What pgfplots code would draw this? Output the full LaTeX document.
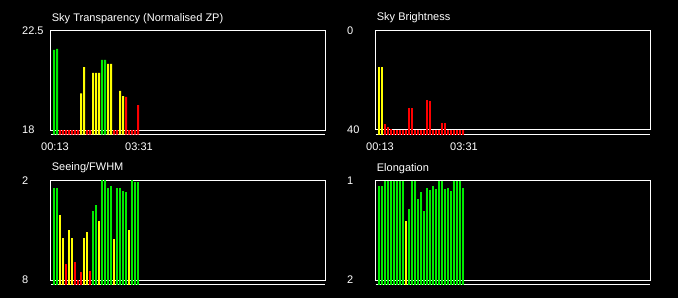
\documentclass[border=0pt]{standalone}
\usepackage{pgfplots}
\pgfplotsset{compat=1.18}
\usepackage{fontspec}
\setmainfont{Liberation Sans}
\definecolor{qgreen}{RGB}{0,235,0}
\definecolor{qyellow}{RGB}{255,255,0}
\definecolor{qred}{RGB}{255,0,0}
\pgfplotsset{
  panel/.style={
    width=274.5pt, height=104pt, scale only axis,
    xmin=-1.1, xmax=90.4,
    axis line style={draw=none}, tick style={draw=none},
    clip mode=individual,
    xtick=\empty,
    ticklabel style={font=\fontsize{11}{13}\selectfont, text=white},
    yticklabel style={anchor=west, inner sep=0pt, xshift=-28.7pt},
    xticklabel style={anchor=north, inner sep=0pt, yshift=-8.2pt, xshift=1pt},
    title style={at={(0,1)}, anchor=base west, inner sep=0pt, yshift=3.5pt, xshift=1pt,
      font=\fontsize{11}{13}\selectfont, text=white},
  },
  bars/.style={ybar, bar width=2pt, bar shift=0pt, draw=none, fill=#1},
  rbars/.style 2 args={draw=none, mark=none,
    error bars/.cd, y dir=plus, y fixed=#2, error mark=none,
    error bar style={draw=#1, line width=2pt, solid}},
}
\begin{document}
\begin{tikzpicture}[font=\fontsize{11}{13}\selectfont]
\useasboundingbox (0pt,0pt) rectangle (678pt,298pt);
\fill[black] (0pt,0pt) rectangle (678pt,298pt);

% Panel 1: Sky Transparency
\begin{axis}[panel, at={(50.7pt,163.5pt)}, anchor=south west,
  ymin=17.8, ymax=22.5,
  ytick={18,22.5}, yticklabels={18,22.5},
  xtick={0,28}, xticklabels={00:13,03:31},
  title={Sky Transparency (Normalised ZP)}]
\draw[white, line width=1pt] (axis cs:-1.1,18) rectangle (axis cs:90.4,22.5);
\draw[white, line width=1pt] (axis cs:-1.1,17.8) -- (axis cs:90.4,17.8);
\addplot[bars=qgreen] coordinates {(0,21.62) (1,21.67) (16,21.17) (17,21.17)};
\addplot[bars=qyellow] coordinates {(9,19.66) (10,20.85) (13,20.58) (14,20.58) (15,20.58) (18,20.99) (19,20.99) (22,19.77) (23,19.54)};
\addplot[bars=qred] coordinates {(2,18) (3,18) (4,18) (5,18) (6,18) (7,18) (8,18) (11,18) (12,18) (20,18) (21,18) (24,19.50) (25,18) (26,18) (27,18) (28,19.13)};
\end{axis}

% Panel 2: Sky Brightness
\begin{axis}[panel, at={(375.7pt,163.5pt)}, anchor=south west,
  ymin=0, ymax=41.81, y dir=reverse,
  ytick={0,40}, yticklabels={0,40},
  xtick={0,28}, xticklabels={00:13,03:31},
  title={Sky Brightness}]
\draw[white, line width=1pt] (axis cs:-1.1,0) rectangle (axis cs:90.4,40);
\draw[white, line width=1pt] (axis cs:-1.1,41.81) -- (axis cs:90.4,41.81);
\addplot[rbars={qyellow}{100}] coordinates {(0,14.67) (1,14.67)};
\addplot[rbars={qred}{100}] coordinates {(2,37.6) (3,38.8) (4,39.6) (5,40) (6,40) (7,40) (8,40) (9,40) (10,31.16) (11,31.16) (12,40) (13,40) (14,40) (15,40) (16,27.94) (17,28.34) (18,40) (19,40) (20,40) (21,37.19) (22,37.19) (23,40) (24,40) (25,40) (26,40) (27,40) (28,40)};
\end{axis}

% Panel 3: Seeing/FWHM
\begin{axis}[panel, at={(50.7pt,13.5pt)}, anchor=south west,
  ymin=2, ymax=8.271, y dir=reverse,
  ytick={2,8}, yticklabels={2,8},
  title={Seeing/FWHM}]
\draw[white, line width=1pt] (axis cs:-1.1,2) rectangle (axis cs:90.4,8);
\draw[white, line width=1pt] (axis cs:-1.1,8.271) -- (axis cs:90.4,8.271);
\addplot[rbars={qgreen}{10}] coordinates {(0,2.45) (1,2.45) (13,3.84) (14,3.48) (16,2.0) (17,2.0) (18,2.45) (19,2.33) (21,2.45) (22,2.45) (23,2.63) (24,2.69) (26,2.0) (27,2.09) (28,2.09)};
\addplot[rbars={qyellow}{10}] coordinates {(2,4.08) (3,5.47) (5,4.99) (6,5.47) (10,5.47) (11,5.11) (15,4.44) (20,5.53) (25,4.99)};
\addplot[rbars={qred}{10}] coordinates {(4,7.04) (7,6.92) (8,8.0) (9,7.52) (12,7.46)};
\end{axis}

% Panel 4: Elongation
\begin{axis}[panel, at={(375.7pt,13.5pt)}, anchor=south west,
  ymin=1, ymax=2.045, y dir=reverse,
  ytick={1,2}, yticklabels={1,2},
  title={Elongation}]
\draw[white, line width=1pt] (axis cs:-1.1,1) rectangle (axis cs:90.4,2);
\draw[white, line width=1pt] (axis cs:-1.1,2.045) -- (axis cs:90.4,2.045);
\addplot[rbars={qgreen}{5}] coordinates {(0,1.055) (1,1.055) (2,1.0) (3,1.0) (4,1.0) (5,1.0) (6,1.0) (7,1.0) (8,1.0) (10,1.286) (11,1.0) (12,1.0) (13,1.186) (14,1.116) (15,1.307) (16,1.075) (17,1.095) (18,1.055) (19,1.085) (20,1.0) (21,1.0) (22,1.085) (23,1.075) (24,1.106) (25,1.0) (26,1.0) (27,1.0) (28,1.075)};
\addplot[rbars={qyellow}{5}] coordinates {(9,1.407)};
\end{axis}
\end{tikzpicture}
\end{document}
